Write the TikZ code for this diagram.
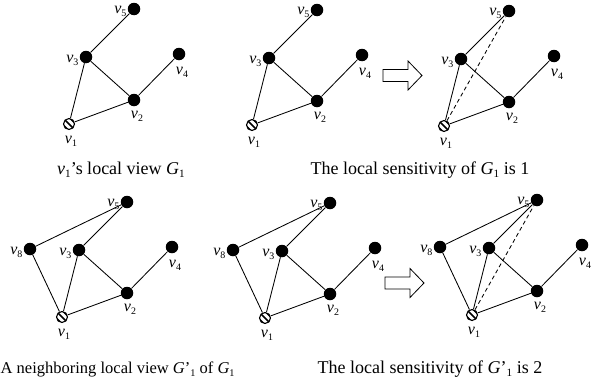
\documentclass[tikz,border=0pt]{standalone}
\usepackage{fontspec}
\setmainfont{Liberation Serif}
\usetikzlibrary{calc}
\newcommand{\sbs}[1]{\raisebox{-0.4ex}{\scalebox{0.62}{#1}}}
\newcommand{\vv}[1]{\textit{v}\sbs{#1}}
\newcommand{\gview}[1]{\textit{G}#1}
\tikzset{
    vert/.style={circle,fill=black,minimum size=12.5pt,inner sep=0pt},
    source/.style={circle,draw,line width=1.1pt,fill=white,minimum size=11pt,inner sep=0pt,
        path picture={
            \foreach \d in {-3.4,0,3.4}
                \draw[line width=1.7pt] ([xshift=\d pt,yshift=\d pt]path picture bounding box.north west)
                    -- ([xshift=\d pt,yshift=\d pt]path picture bounding box.south east);
        }},
    link/.style={line width=0.85pt},
    newlink/.style={link,dash pattern=on 4pt off 3pt},
    vlabel/.style={font=\fontsize{16}{18}\selectfont,inner sep=1pt},
    caption/.style={font=\fontsize{18}{20}\selectfont,inner sep=0pt,anchor=base},
    view/.pic={
        \node[source,label={[vlabel,label distance=5pt,xshift=2pt]below:\vv{1}}] (v1) at (0,0) {};
        \node[vert,label={[vlabel,label distance=4pt,xshift=3pt]below:\vv{2}}] (v2) at (65,-24) {};
        \node[vert,label={[vlabel,yshift=-3pt]left:\vv{3}}] (v3) at (17,-67) {};
        \node[vert,label={[vlabel,label distance=6pt,xshift=3pt]below:\vv{4}}] (v4) at (110,-70) {};
        \node[vert,label={[vlabel,yshift=-2pt]left:\vv{5}}] (v5) at (65,-115) {};
        \draw[link] (v1) -- (v3) -- (v5) (v3) -- (v2) -- (v4) (v1) -- (v2);
    },
    fatarrow/.pic={
        \draw[line width=0.8pt] (0,-6) -- (25,-6) -- (25,-14.5) -- (39,0) -- (25,14.5) -- (25,6) -- (0,6) -- cycle;
    }
}

\begin{document}
\begin{tikzpicture}[x=1pt,y=-1pt]
    \useasboundingbox (0,0) rectangle (591,388);
    % top row
    \pic (A) at (69,124) {view};
    \pic (B) at (252,125) {view};
    \pic at (383,75.5) {fatarrow};
    \pic (C) at (444,126) {view};
    \draw[newlink] (Cv1) -- (Cv5);
    \node[caption] (capA) at (121,174) {\vv{1}'s local view \gview{\sbs{1}}};
    \node[caption] (capB) at (420,174) {The local sensitivity of \gview{\sbs{1}} is 1};
    % bottom row
    \pic (D) at (62,317) {view};
    \node[vert,label={[vlabel,yshift=-3pt]left:\vv{8}}] (Dv8) at (30,249) {};
    \draw[link] (Dv1) -- (Dv8) -- (Dv5);
    \pic (E) at (265,318) {view};
    \node[vert,label={[vlabel,yshift=-3pt]left:\vv{8}}] (Ev8) at (233,250) {};
    \draw[link] (Ev1) -- (Ev8) -- (Ev5);
    \pic at (385,283) {fatarrow};
    \pic (F) at (472,315) {view};
    \node[vert,label={[vlabel,yshift=-3pt]left:\vv{8}}] (Fv8) at (440,247) {};
    \draw[link] (Fv1) -- (Fv8) -- (Fv5);
    \draw[newlink] (Fv1) -- (Fv5);
    \node[caption,anchor=base west,font=\fontsize{16.5}{18}\selectfont] (capD) at (0.5,373) {A neighboring local view \gview{’\sbs{1}} of \gview{\sbs{1}}};
    \node[caption] (capE) at (430,373) {The local sensitivity of \gview{’\sbs{1}} is 2};
\end{tikzpicture}
\end{document}
